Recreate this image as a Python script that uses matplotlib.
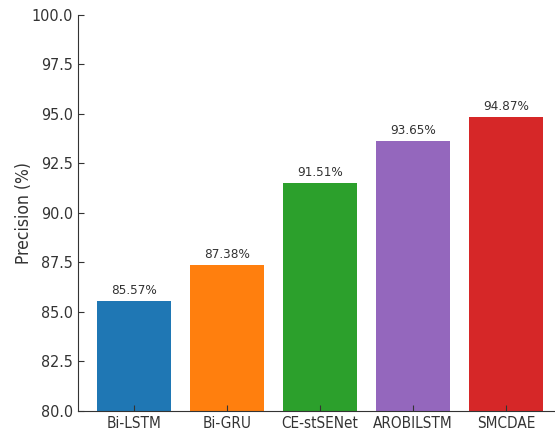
import matplotlib
matplotlib.use("Agg")
import matplotlib.pyplot as plt

models = ["Bi-LSTM", "Bi-GRU", "CE-stSENet", "AROBILSTM", "SMCDAE"]
precision = [85.57, 87.38, 91.51, 93.65, 94.87]
colors = ["#1f77b4", "#ff7f0e", "#2ca02c", "#9467bd", "#d62728"]
yticks = [80.0, 82.5, 85.0, 87.5, 90.0, 92.5, 95.0, 97.5, 100.0]

plt.rcParams["font.family"] = "DejaVu Sans"
plt.rcParams["font.stretch"] = "condensed"

fig = plt.figure(figsize=(5.55, 4.36), dpi=100)
ax = fig.add_axes([78 / 555, 25 / 436, 484 / 555, 396 / 436])

bars = ax.bar(models, precision, color=colors, width=0.8)
for num, rect in enumerate(bars):
    ax.text(rect.get_x() + rect.get_width() / 2, rect.get_height() + 0.2,
            f"{precision[num]:.2f}%", ha="center", va="bottom",
            fontsize=9.6, color="#333333")

ax.set_ylim(80, 100)
ax.set_xlim(-0.6, 4.6)
ax.set_yticks(yticks)
ax.set_yticklabels([f"{t:.1f}" for t in yticks])
ax.set_ylabel("Precision (%)", fontsize=12.5, color="#333333")
ax.yaxis.set_label_coords(-45 / 484, 0.5)
ax.tick_params(direction="in", labelsize=11.5, colors="#333333", length=4)
ax.tick_params(axis="x", labelsize=11)
ax.spines["top"].set_visible(False)
ax.spines["right"].set_visible(False)
for s in ("left", "bottom"):
    ax.spines[s].set_color("#333333")

fig.savefig("out.png", dpi=100)
